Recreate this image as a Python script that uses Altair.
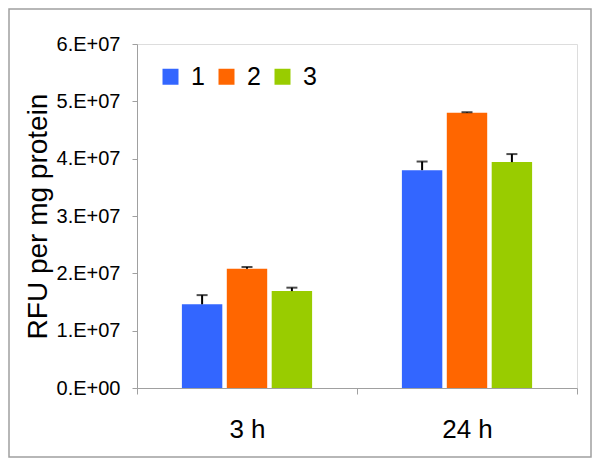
import altair as alt
import pandas as pd

groups = ["3 h", "24 h"]
series = ["1", "2", "3"]
colors = ["#3366FF", "#FF6600", "#99CC00"]
values_3h = [1.46e7, 2.08e7, 1.69e7]
values_24h = [3.80e7, 4.80e7, 3.94e7]
err_3h = [0.16e7, 0.03e7, 0.06e7]
err_24h = [0.15e7, 0.01e7, 0.14e7]
y_ticks = [0, 1e7, 2e7, 3e7, 4e7, 5e7, 6e7]

rows = []
for g, vals, errs in [(groups[0], values_3h, err_3h), (groups[1], values_24h, err_24h)]:
    for s, v, e in zip(series, vals, errs):
        rows.append({"time": g, "series": s, "value": v, "upper": v + e})
df = pd.DataFrame(rows)

FONT = "Liberation Sans"

x_enc = alt.X("time:N", sort=groups,
              scale=alt.Scale(paddingInner=0, paddingOuter=0),
              axis=alt.Axis(title=None, labelAngle=0, labelFontSize=26, labelFont=FONT,
                            labelColor="#000000", labelPadding=22, tickBand="extent",
                            tickSize=6, tickColor="#A0A0A0", domainColor="#A0A0A0"))
xoff = alt.XOffset("series:N", sort=series,
                   scale=alt.Scale(paddingInner=0.1, paddingOuter=1))

bars = alt.Chart(df).mark_bar().encode(
    x=x_enc,
    xOffset=xoff,
    y=alt.Y("value:Q", scale=alt.Scale(domain=[0, 6e7], nice=False),
            axis=alt.Axis(values=y_ticks, grid=False, title="RFU per mg protein",
                          titleFontSize=28, titleFont=FONT, titleFontWeight="normal",
                          titleColor="#000000", titlePadding=4,
                          labelExpr="datum.value == 0 ? '0.E+00' : format(datum.value/1e7, 'd') + '.E+07'",
                          labelFontSize=20, labelFont=FONT, labelColor="#000000",
                          labelPadding=12, tickSize=5, tickColor="#A0A0A0",
                          domainColor="#A0A0A0")),
    color=alt.Color("series:N", sort=series,
                    scale=alt.Scale(domain=series, range=colors),
                    legend=alt.Legend(title=None, orient="none", legendX=21, legendY=20,
                                      direction="horizontal", symbolType="square",
                                      symbolSize=256, symbolStrokeWidth=0,
                                      labelFontSize=25, labelFont=FONT, labelColor="#000000",
                                      labelOffset=8, columnPadding=9, padding=0)),
)

rules = alt.Chart(df).mark_rule(color="#000000", strokeWidth=2).encode(
    x=alt.X("time:N", sort=groups),
    xOffset=xoff,
    y="value:Q",
    y2="upper:Q",
)

caps = alt.Chart(df).mark_tick(color="#000000", thickness=2, size=11).encode(
    x=alt.X("time:N", sort=groups),
    xOffset=xoff,
    y="upper:Q",
)

border = alt.Chart(pd.DataFrame({"a": [0]})).mark_rect(
    fill=None, stroke="#A0A0A0", strokeWidth=1.5
).encode(
    x=alt.value(-128), x2=alt.value(454), y=alt.value(-35), y2=alt.value(413)
)

chart = alt.layer(bars, rules, caps, border).properties(
    width=440, height=344,
    autosize=alt.AutoSizeParams(type="none"),
    padding={"left": 129, "top": 36, "right": 15, "bottom": 70},
).configure_view(stroke=None).configure(background="#FFFFFF")

chart.save("out.html", embed_options={"renderer": "svg", "actions": False})
